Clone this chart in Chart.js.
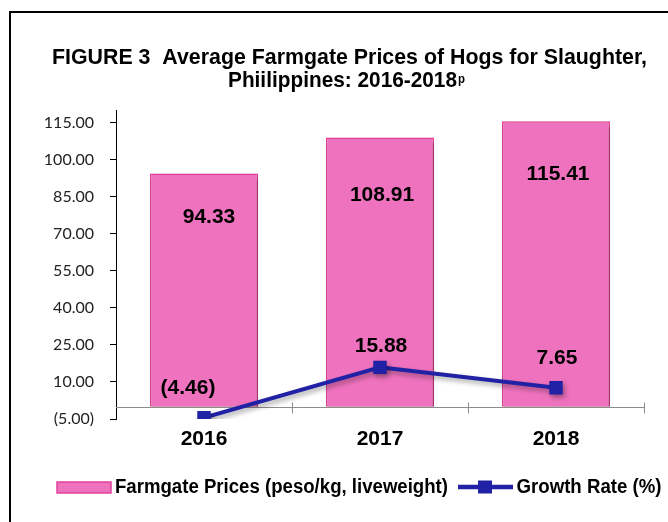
<!DOCTYPE html>
<html><head><meta charset="utf-8">
<script src="https://cdn.jsdelivr.net/npm/chart.js@4.4.0/dist/chart.umd.min.js"></script>
<style>html,body{margin:0;padding:0;background:#fff;} canvas{display:block;}</style>
</head><body>
<canvas id="c" width="668" height="522"></canvas>
<script>
const categories = ['2016', '2017', '2018'];
const farmgatePrices = [94.33, 108.91, 115.41];
const growthRate = [-4.46, 15.88, 7.65];
const yTickValues = [-5, 10, 25, 40, 55, 70, 85, 100, 115];
const titleLines = ['FIGURE 3  Average Farmgate Prices of Hogs for Slaughter,', 'Phiilippines: 2016-2018'];
const titleSuperscript = 'p';
const seriesNames = ['Farmgate Prices (peso/kg, liveweight)', 'Growth Rate (%)'];

// label placement (style only)
const barLabelOffsets = [[5, 44], [2, 58], [2, 53]];
const lineLabelOffsets = [[-16, -29], [1, -21], [1, -30]];

const PINK = '#ef72be', PINK_EDGE = '#e5409a', BLUE = '#2121a6';
const ARIAL = '"Liberation Sans", Arial, sans-serif';

function fmt(v) { return v < 0 ? '(' + Math.abs(v).toFixed(2) + ')' : Number(v).toFixed(2); }

// draws bold text squeezed horizontally to a given width (condensed look)
function fitText(ctx, text, x, y, size, targetW, align) {
  ctx.save();
  ctx.font = 'bold ' + size + 'px ' + ARIAL;
  const w = ctx.measureText(text).width;
  const sx = targetW / w;
  ctx.textAlign = align; ctx.textBaseline = 'alphabetic'; ctx.fillStyle = '#000';
  ctx.translate(x, y); ctx.scale(sx, 1);
  ctx.fillText(text, 0, 0);
  ctx.restore();
}

const framePlugin = {
  id: 'frame',
  beforeDraw(chart) {
    const ctx = chart.ctx; ctx.save();
    ctx.fillStyle = '#fff'; ctx.fillRect(0, 0, chart.width, chart.height);
    ctx.strokeStyle = '#000'; ctx.lineWidth = 2;
    ctx.strokeRect(10, 12, 1000, 1000);
    ctx.restore();
  }
};

const titlePlugin = {
  id: 'titleText',
  afterDraw(chart) {
    const ctx = chart.ctx, size = 21.5;
    fitText(ctx, titleLines[0], 52, 64, size, 595, 'left');
    fitText(ctx, titleLines[1], 228, 87, size, 229, 'left');
    fitText(ctx, titleSuperscript, 458, 83, 12.5, 7, 'left');
  }
};

const shadowPlugin = {
  id: 'shadow',
  beforeDatasetDraw(chart) {
    const ctx = chart.ctx; ctx.save();
    ctx.shadowColor = 'rgba(0,0,0,0.35)'; ctx.shadowBlur = 5; ctx.shadowOffsetX = 2; ctx.shadowOffsetY = 3;
  },
  afterDatasetDraw(chart) { chart.ctx.restore(); }
};

const zeroAxisPlugin = {
  id: 'zeroAxis',
  beforeDatasetsDraw(chart) {
    const { ctx, scales: { x, y } } = chart;
    const y0 = Math.round(y.getPixelForValue(0)) + 0.5;
    const n = categories.length;
    ctx.save(); ctx.strokeStyle = '#8c8c8c'; ctx.lineWidth = 1;
    ctx.beginPath(); ctx.moveTo(x.left, y0); ctx.lineTo(x.right, y0);
    for (let i = 1; i <= n; i++) {
      const xi = Math.round(x.left + i * x.width / n) + 0.5;
      ctx.moveTo(xi, y0 - 5); ctx.lineTo(xi, y0 + 6);
    }
    ctx.stroke(); ctx.restore();
  }
};

const valueLabelPlugin = {
  id: 'valueLabels',
  afterDatasetsDraw(chart) {
    const ctx = chart.ctx;
    ctx.save();
    ctx.font = 'bold 21px ' + ARIAL; ctx.fillStyle = '#000';
    ctx.textAlign = 'center'; ctx.textBaseline = 'middle';
    chart.data.datasets.forEach((ds, di) => {
      const meta = chart.getDatasetMeta(di);
      const offs = ds.type === 'bar' ? barLabelOffsets : lineLabelOffsets;
      meta.data.forEach((el, i) => {
        ctx.fillText(fmt(ds.data[i]), el.x + offs[i][0], el.y + offs[i][1]);
      });
    });
    ctx.restore();
  }
};

const legendPlugin = {
  id: 'customLegend',
  afterDraw(chart) {
    const ctx = chart.ctx, size = 20, base = 493;
    ctx.save();
    ctx.fillStyle = PINK; ctx.fillRect(57, 482, 54, 11);
    ctx.strokeStyle = PINK_EDGE; ctx.lineWidth = 1.5; ctx.strokeRect(57, 482, 54, 11);
    ctx.restore();
    fitText(ctx, seriesNames[0], 115, base, size, 333, 'left');
    ctx.save();
    ctx.strokeStyle = BLUE; ctx.lineWidth = 4.5;
    ctx.beginPath(); ctx.moveTo(458, 487); ctx.lineTo(513, 487); ctx.stroke();
    ctx.fillStyle = BLUE; ctx.fillRect(478, 480.5, 14, 13);
    ctx.restore();
    fitText(ctx, seriesNames[1], 516.5, base, size, 145, 'left');
  }
};

new Chart(document.getElementById('c'), {
  data: {
    labels: categories,
    datasets: [
      { type: 'line', label: seriesNames[1], data: growthRate, borderColor: BLUE, backgroundColor: BLUE,
        borderWidth: 4, pointStyle: 'rect', pointRadius: 9.5, pointBorderWidth: 0,
        pointBackgroundColor: BLUE, pointBorderColor: BLUE, tension: 0, order: 1 },
      { type: 'bar', label: seriesNames[0], data: farmgatePrices, backgroundColor: PINK, borderColor: PINK_EDGE,
        borderWidth: 1.5, barPercentage: 0.615, categoryPercentage: 1, order: 2 }
    ]
  },
  options: {
    responsive: false, animation: false, devicePixelRatio: 1,
    layout: { padding: { left: 0, right: 24, top: 110, bottom: 63 } },
    plugins: { legend: { display: false }, title: { display: false }, tooltip: { enabled: false } },
    scales: {
      x: {
        type: 'category', offset: true,
        grid: { display: false, drawTicks: false }, border: { display: false },
        ticks: { font: { family: ARIAL, size: 21, weight: 'bold' }, color: '#000', padding: 8, maxRotation: 0 },
        afterFit(s) { s.height = 40; }
      },
      y: {
        type: 'linear', min: -5, max: 120,
        afterBuildTicks(s) { s.ticks = yTickValues.map(v => ({ value: v })); },
        grid: { drawOnChartArea: false, drawTicks: true, tickLength: 6, color: '#000' },
        border: { display: true, color: '#000', width: 1 },
        ticks: { callback: v => fmt(v), font: { family: 'Lato', size: 16 }, color: '#222', padding: 16 },
        afterFit(s) { s.width = 116; }
      }
    }
  },
  plugins: [framePlugin, shadowPlugin, zeroAxisPlugin, valueLabelPlugin, legendPlugin, titlePlugin]
});
</script>
</body></html>
